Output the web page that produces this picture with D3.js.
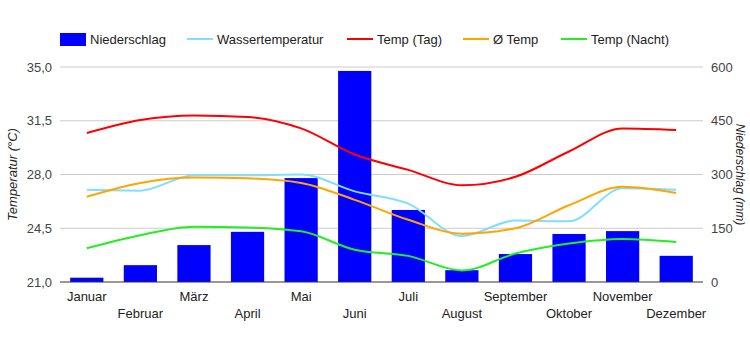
<!DOCTYPE html>
<html>
<head>
<meta charset="utf-8">
<script src="https://cdn.jsdelivr.net/npm/d3@7"></script>
<style>
  body { margin: 0; background: #fff; }
  text { font-family: "Liberation Sans", Arial, sans-serif; }
</style>
</head>
<body>
<div class="chart"></div>
<script>
// Data
const months = ["Januar", "Februar", "März", "April", "Mai", "Juni", "Juli", "August", "September", "Oktober", "November", "Dezember"];
const niederschlag = [12, 47, 103, 140, 290, 589, 201, 33, 78, 134, 142, 73];
const wasserTemp = [27.0, 26.95, 27.95, 27.95, 28.0, 26.9, 26.1, 24.0, 25.0, 24.95, 27.1, 27.0];
const tempTag = [30.7, 31.55, 31.85, 31.75, 31.0, 29.3, 28.3, 27.3, 27.85, 29.5, 31.0, 30.9];
const tempMittel = [26.55, 27.45, 27.8, 27.75, 27.45, 26.35, 25.05, 24.15, 24.5, 26.0, 27.2, 26.8];
const tempNacht = [23.2, 24.05, 24.6, 24.55, 24.3, 23.1, 22.7, 21.75, 22.85, 23.5, 23.8, 23.6];
const tempTicks = [21, 24.5, 28, 31.5, 35];
const rainTicks = [0, 150, 300, 450, 600];

// Dimensions
const width = 750;
const height = 350;
const margin = { top: 67, right: 47, bottom: 68, left: 60 };
const innerWidth = width - margin.left - margin.right;
const innerHeight = height - margin.top - margin.bottom;

const svg = d3.select(".chart")
  .append("svg")
  .attr("width", width)
  .attr("height", height);

const chart = svg.append("g")
  .attr("transform", `translate(${margin.left}, ${margin.top})`);

// Scales
const xScale = d3.scaleBand()
  .domain(months)
  .range([0, innerWidth])
  .paddingInner(0.38)
  .paddingOuter(0.19);

const yTemp = d3.scaleLinear()
  .domain([21, 35])
  .range([innerHeight, 0]);

const yRain = d3.scaleLinear()
  .domain([0, 600])
  .range([innerHeight, 0]);

// Gridlines
chart.append("g")
  .selectAll("line")
  .data(tempTicks.slice(1))
  .join("line")
  .attr("x1", 0)
  .attr("x2", innerWidth)
  .attr("y1", d => yTemp(d))
  .attr("y2", d => yTemp(d))
  .attr("stroke", "#cccccc")
  .attr("stroke-width", 1);

// Bars
chart.append("g")
  .selectAll("rect")
  .data(niederschlag)
  .join("rect")
  .attr("x", (d, i) => xScale(months[i]))
  .attr("y", d => yRain(d))
  .attr("width", xScale.bandwidth())
  .attr("height", d => innerHeight - yRain(d))
  .attr("fill", "#0000ff");

// Baseline
chart.append("line")
  .attr("x1", 0)
  .attr("x2", innerWidth)
  .attr("y1", innerHeight)
  .attr("y2", innerHeight)
  .attr("stroke", "#333333")
  .attr("stroke-width", 1);

// Lines
const line = d3.line()
  .x((d, i) => xScale(months[i]) + xScale.bandwidth() / 2)
  .y(d => yTemp(d))
  .curve(d3.curveMonotoneX);

const series = [
  { values: wasserTemp, color: "#80deff" },
  { values: tempTag, color: "#ff0000" },
  { values: tempMittel, color: "#ffa500" },
  { values: tempNacht, color: "#22ee22" }
];

series.forEach(s => {
  chart.append("path")
    .datum(s.values)
    .attr("d", line)
    .attr("fill", "none")
    .attr("stroke", s.color)
    .attr("stroke-width", 2);
});

// Left axis labels
chart.append("g")
  .selectAll("text")
  .data(tempTicks)
  .join("text")
  .attr("x", -8)
  .attr("y", d => yTemp(d))
  .attr("dy", "0.35em")
  .attr("text-anchor", "end")
  .attr("font-size", 13)
  .attr("fill", "#444")
  .text(d => d3.format(".1f")(d).replace(".", ","));

// Right axis labels
chart.append("g")
  .selectAll("text")
  .data(rainTicks)
  .join("text")
  .attr("x", innerWidth + 8)
  .attr("y", d => yRain(d))
  .attr("dy", "0.35em")
  .attr("text-anchor", "start")
  .attr("font-size", 13)
  .attr("fill", "#444")
  .text(d => d);

// X labels, staggered in two rows
chart.append("g")
  .selectAll("text")
  .data(months)
  .join("text")
  .attr("x", d => xScale(d) + xScale.bandwidth() / 2)
  .attr("y", (d, i) => innerHeight + (i % 2 === 0 ? 19 : 36))
  .attr("text-anchor", "middle")
  .attr("font-size", 13)
  .attr("fill", "#222")
  .text(d => d);

// Axis titles
svg.append("text")
  .attr("transform", `translate(17, ${margin.top + innerHeight / 2}) rotate(-90)`)
  .attr("text-anchor", "middle")
  .attr("font-size", 13)
  .attr("font-style", "italic")
  .attr("fill", "#222")
  .text("Temperatur (°C)");

svg.append("text")
  .attr("transform", `translate(736, ${margin.top + innerHeight / 2}) rotate(90)`)
  .attr("text-anchor", "middle")
  .attr("font-size", 12)
  .attr("font-style", "italic")
  .attr("fill", "#222")
  .text("Niederschlag (mm)");

// Legend
const legendItems = [
  { label: "Niederschlag", color: "#0000ff", type: "rect", x: 60 },
  { label: "Wassertemperatur", color: "#80deff", type: "line", x: 187 },
  { label: "Temp (Tag)", color: "#ff0000", type: "line", x: 347 },
  { label: "Ø Temp", color: "#ffa500", type: "line", x: 463 },
  { label: "Temp (Nacht)", color: "#22ee22", type: "line", x: 561 }
];

const legend = svg.append("g").attr("transform", "translate(0, 39)");

legendItems.forEach(item => {
  if (item.type === "rect") {
    legend.append("rect")
      .attr("x", item.x)
      .attr("y", -6)
      .attr("width", 26)
      .attr("height", 13)
      .attr("fill", item.color);
  } else {
    legend.append("line")
      .attr("x1", item.x)
      .attr("x2", item.x + 26)
      .attr("y1", 0)
      .attr("y2", 0)
      .attr("stroke", item.color)
      .attr("stroke-width", 2);
  }
  legend.append("text")
    .attr("x", item.x + 30)
    .attr("y", 0)
    .attr("dy", "0.35em")
    .attr("font-size", 13)
    .attr("fill", "#222")
    .text(item.label);
});
</script>
</body>
</html>
